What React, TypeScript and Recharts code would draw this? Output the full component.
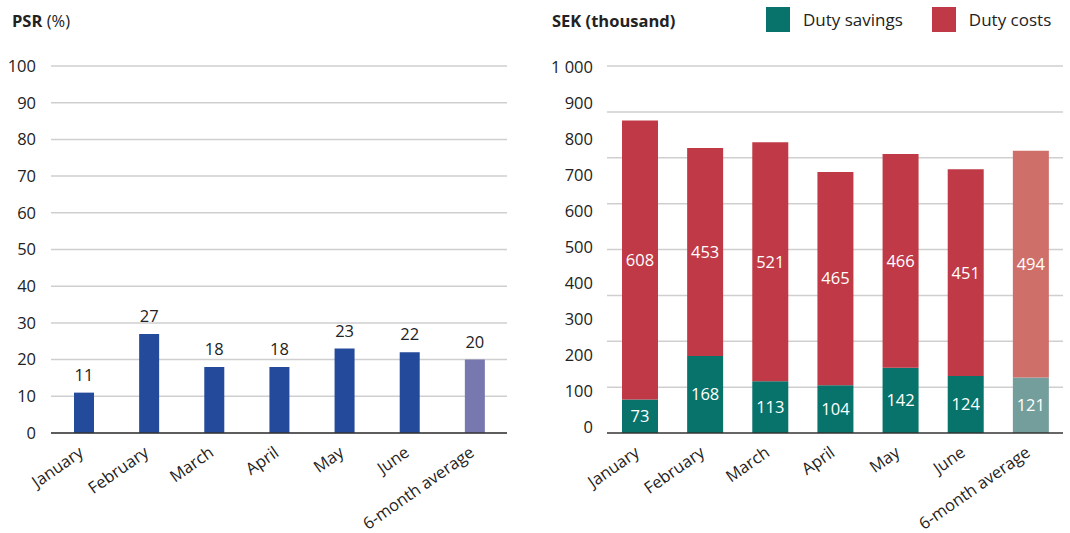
import React from "react";
import { BarChart, Bar, XAxis, YAxis, CartesianGrid, Cell, LabelList, ReferenceLine } from "recharts";

const months = ["January", "February", "March", "April", "May", "June", "6-month average"];
const psr = [11, 27, 18, 18, 23, 22, 20];
const dutySavings = [73, 168, 113, 104, 142, 124, 121];
const dutyCosts = [608, 453, 521, 465, 466, 451, 494];

const psrTicks = [0, 10, 20, 30, 40, 50, 60, 70, 80, 90, 100];
const sekGridTicks = [100, 200, 300, 400, 500, 600, 700, 800];
const sekLabelTicks = [0, 100, 200, 300, 400, 500, 600, 700, 800, 900, 1000];

const FONT = "'Open Sans', Lato, sans-serif";
const INK = "#222";
const GRID = "#cfcfcf";

const BLUE = "#234a9b";
const BLUE_AVG = "#7878b0";
const TEAL = "#07736b";
const TEAL_AVG = "#739e9b";
const RED = "#bf3a46";
const RED_AVG = "#cf6f6a";

const psrData = months.map((m, i) => ({ month: m, psr: psr[i] }));
const sekData = months.map((m, i) => ({ month: m, savings: dutySavings[i], costs: dutyCosts[i] }));
const lastIdx = months.length - 1;

const SEK_MARGIN = { top: 66, right: 7, left: 0, bottom: 0 };

function MonthTick(props: any) {
  const { x, y, payload } = props;
  const tx = x + 1;
  const ty = y + 14;
  return (
    <text
      x={tx}
      y={ty}
      transform={`rotate(-35, ${tx}, ${ty})`}
      textAnchor="end"
      fontSize={16.5}
      fontFamily={FONT}
      fill={INK}
    >
      {payload.value}
    </text>
  );
}

const yTickStyle = { fontSize: 16.5, fill: INK, fontFamily: FONT };

function fmtThousands(v: number) {
  return v >= 1000 ? `${Math.floor(v / 1000)} ${String(v % 1000).padStart(3, "0")}` : String(v);
}

// gridlines for the SEK chart on the same 0-800 value scale as the bars, drawn underneath them
function SekGrid() {
  return (
    <BarChart width={530} height={533} data={sekData} margin={SEK_MARGIN}>
      <XAxis dataKey="month" height={100} tick={false} tickLine={false} axisLine={false} />
      <YAxis domain={[0, 800]} width={67} tick={false} tickLine={false} axisLine={false} />
      <Bar dataKey="savings" stackId="s" fillOpacity={0} barSize={36} isAnimationActive={false} />
      <Bar dataKey="costs" stackId="s" fillOpacity={0} barSize={36} isAnimationActive={false} />
      {sekGridTicks.map((t) => (
        <ReferenceLine key={t} y={t} stroke={GRID} strokeWidth={1.5} />
      ))}
    </BarChart>
  );
}

export default function App() {
  return (
    <div style={{ position: "absolute", left: 0, top: 0, width: 1070, height: 533, background: "#fff", fontFamily: FONT, color: INK }}>
      <div style={{ position: "absolute", left: 12, top: 9, fontSize: 16.5 }}>
        <b>PSR</b> (%)
      </div>
      <div style={{ position: "absolute", left: 552, top: 9, fontSize: 16.5, fontWeight: 700 }}>
        SEK (thousand)
      </div>
      <div style={{ position: "absolute", left: 766, top: 7, display: "flex", alignItems: "center", fontSize: 17 }}>
        <span style={{ width: 24, height: 25, background: TEAL, display: "inline-block" }} />
        <span style={{ marginLeft: 13 }}>Duty savings</span>
        <span style={{ width: 24, height: 25, background: RED, display: "inline-block", marginLeft: 29 }} />
        <span style={{ marginLeft: 13 }}>Duty costs</span>
      </div>

      <div style={{ position: "absolute", left: 0, top: 0 }}>
        <BarChart width={530} height={533} data={psrData} margin={{ top: 66, right: 23, left: 0, bottom: 0 }}>
          <CartesianGrid vertical={false} stroke={GRID} strokeWidth={1.5} />
          <XAxis
            dataKey="month"
            interval={0}
            height={100}
            tickLine={false}
            axisLine={{ stroke: "#333", strokeWidth: 1.5 }}
            tick={<MonthTick />}
          />
          <YAxis
            domain={[0, 100]}
            ticks={psrTicks}
            width={51}
            tickLine={false}
            axisLine={false}
            tickSize={0}
            tickMargin={15}
            tick={yTickStyle}
          />
          <Bar dataKey="psr" barSize={20} isAnimationActive={false}>
            {psrData.map((_, i) => (
              <Cell key={i} fill={i === lastIdx ? BLUE_AVG : BLUE} />
            ))}
            <LabelList dataKey="psr" position="top" offset={12} fill={INK} fontSize={16.5} fontFamily={FONT} />
          </Bar>
        </BarChart>
      </div>

      <div style={{ position: "absolute", left: 540, top: 0 }}>
        <SekGrid />
      </div>
      <div style={{ position: "absolute", left: 540, top: 0 }}>
        <BarChart width={530} height={533} data={sekData} margin={SEK_MARGIN}>
          {/* bars sit on the 0-800 value axis; the left axis only carries the tick text */}
          <YAxis
            yAxisId="val"
            orientation="right"
            domain={[0, 800]}
            width={0}
            tick={false}
            tickLine={false}
            axisLine={false}
          />
          <YAxis
            yAxisId="lbl"
            domain={[-16, 1002]}
            ticks={sekLabelTicks}
            allowDataOverflow
            width={67}
            tickLine={false}
            axisLine={false}
            tickSize={0}
            tickMargin={14}
            tick={yTickStyle}
            tickFormatter={fmtThousands}
          />
          <XAxis
            dataKey="month"
            interval={0}
            height={100}
            tickLine={false}
            axisLine={{ stroke: "#333", strokeWidth: 1.5 }}
            tick={<MonthTick />}
          />
          <Bar dataKey="savings" stackId="s" yAxisId="val" barSize={36} isAnimationActive={false}>
            {sekData.map((_, i) => (
              <Cell key={i} fill={i === lastIdx ? TEAL_AVG : TEAL} />
            ))}
            <LabelList dataKey="savings" position="center" fill="#fff" fontSize={16.5} fontFamily={FONT} />
          </Bar>
          <Bar dataKey="costs" stackId="s" yAxisId="val" barSize={36} isAnimationActive={false}>
            {sekData.map((_, i) => (
              <Cell key={i} fill={i === lastIdx ? RED_AVG : RED} />
            ))}
            <LabelList dataKey="costs" position="center" fill="#fff" fontSize={16.5} fontFamily={FONT} />
          </Bar>
        </BarChart>
      </div>
    </div>
  );
}
